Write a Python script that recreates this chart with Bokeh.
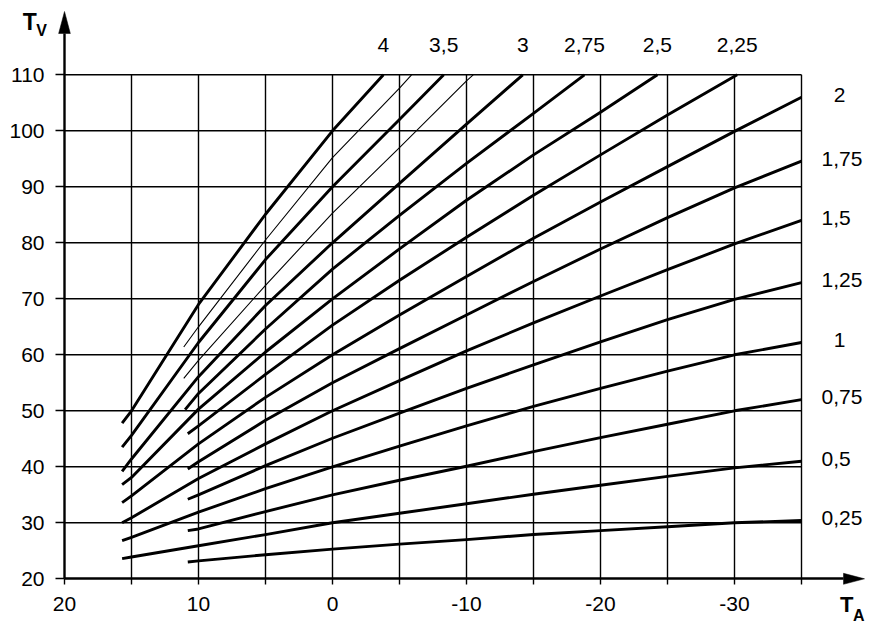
from bokeh.plotting import figure
from bokeh.models import Range1d, FixedTicker
from bokeh.embed import file_html
from bokeh.resources import INLINE
from bokeh.core.properties import value

# ---------------- data ----------------
ta_major_ticks = [20, 10, 0, -10, -20, -30]
ta_major_labels = ["20", "10", "0", "-10", "-20", "-30"]
ta_minor_ticks = [15, 5, -5, -15, -25, -35]
tv_ticks = [20, 30, 40, 50, 60, 70, 80, 90, 100, 110]
tv_labels = ["20", "30", "40", "50", "60", "70", "80", "90", "100", "110"]

c025_ta = [10.8, 10, 5, 0, -5, -10, -15, -20, -25, -30, -35]
c025_tv = [23.0, 23.2, 24.3, 25.3, 26.2, 27.0, 27.9, 28.6, 29.3, 30.0, 30.4]
c05_ta = [15.7, 15, 10, 5, 0, -5, -10, -15, -20, -25, -30, -35]
c05_tv = [23.6, 23.9, 25.9, 27.9, 30.0, 31.7, 33.4, 35.1, 36.7, 38.3, 39.8, 41.0]
c075_ta = [10.8, 10, 5, 0, -5, -10, -15, -20, -25, -30, -35]
c075_tv = [28.6, 28.9, 32.0, 35.0, 37.6, 40.1, 42.7, 45.2, 47.6, 50.0, 52.0]
c1_ta = [15.7, 15, 10, 5, 0, -5, -10, -15, -20, -25, -30, -35]
c1_tv = [26.8, 27.4, 31.9, 36.1, 40.0, 43.7, 47.3, 50.8, 54.0, 57.1, 60.0, 62.2]
c125_ta = [10.8, 10, 5, 0, -5, -10, -15, -20, -25, -30, -35]
c125_tv = [34.2, 35.0, 40.2, 45.1, 49.6, 54.0, 58.2, 62.3, 66.3, 69.9, 72.9]
c15_ta = [15.7, 15, 10, 5, 0, -5, -10, -15, -20, -25, -30, -35]
c15_tv = [30.0, 30.9, 37.9, 44.1, 50.0, 55.4, 60.7, 65.7, 70.5, 75.2, 79.8, 84.0]
c175_ta = [10.8, 10, 5, 0, -5, -10, -15, -20, -25, -30, -35]
c175_tv = [39.6, 40.9, 48.3, 55.0, 61.1, 67.1, 73.1, 78.9, 84.5, 89.8, 94.6]
c2_ta = [15.7, 15, 10, 5, 0, -5, -10, -15, -20, -25, -30, -35]
c2_tv = [33.6, 34.8, 44.1, 52.4, 60.0, 67.1, 74.0, 80.8, 87.3, 93.6, 99.9, 106.0]
c225_ta = [10.8, 10, 5, 0, -5, -10, -15, -20, -25, -30.2]
c225_tv = [45.9, 47.3, 56.5, 65.3, 73.3, 81.0, 88.5, 95.7, 102.8, 110.0]
c25_ta = [15.7, 15, 10, 5, 0, -5, -10, -15, -20, -24.25]
c25_tv = [36.8, 38.1, 50.3, 60.5, 70.0, 78.9, 87.6, 95.7, 103.3, 110.0]
c275_ta = [11.0, 10, 5, 0, -5, -10, -15, -18.8]
c275_tv = [50.2, 53.1, 64.6, 75.3, 84.9, 94.2, 103.1, 110.0]
c3_ta = [15.7, 15, 10, 5, 0, -5, -10, -14.2]
c3_tv = [39.2, 41.4, 56.1, 68.8, 80.0, 90.6, 101.2, 110.0]
c325_ta = [11.1, 10, 5, 0, -5, -10, -10.5]
c325_tv = [55.8, 59.0, 72.4, 85.3, 97.0, 108.9, 110.0]
c35_ta = [15.7, 15, 10, 5, 0, -5, -8.3]
c35_tv = [43.5, 45.6, 62.2, 77.0, 90.0, 102.0, 110.0]
c375_ta = [11.1, 10, 5, 0, -5, -5.9]
c375_tv = [61.4, 65.0, 80.5, 95.2, 107.6, 110.0]
c4_ta = [15.7, 15, 10, 5, 0, -3.8]
c4_tv = [47.8, 50.0, 69.0, 85.1, 100.0, 110.0]

curve_labels = ["0,25", "0,5", "0,75", "1", "1,25", "1,5", "1,75", "2",
                "2,25", "2,5", "2,75", "3", "", "3,5", "", "4"]
curve_ta = [c025_ta, c05_ta, c075_ta, c1_ta, c125_ta, c15_ta, c175_ta, c2_ta,
            c225_ta, c25_ta, c275_ta, c3_ta, c325_ta, c35_ta, c375_ta, c4_ta]
curve_tv = [c025_tv, c05_tv, c075_tv, c1_tv, c125_tv, c15_tv, c175_tv, c2_tv,
            c225_tv, c25_tv, c275_tv, c3_tv, c325_tv, c35_tv, c375_tv, c4_tv]

# ---------------- layout ----------------
W, H = 876, 635
X0, SX = 64.0, 13.4     # canvas px of TA=20, px per unit
Y0, SY = 578.3, 5.6     # canvas px of TV=20, px per unit
x_start = 20 + X0 / SX
x_end = 20 - (W - X0) / SX
y_end = 20 + Y0 / SY
y_start = 20 - (H - Y0) / SY


def xd(px):
    return 20 - (px - X0) / SX


def yd(py):
    return 20 + (Y0 - py) / SY


def tyd(py, fs):
    # baseline position for text glyphs (empirical renderer offset)
    return yd(py - 0.42 * fs)


FONT = "Liberation Sans"
FSN = 21
FS = f"{FSN}px"

p = figure(width=W, height=H, x_range=Range1d(x_start, x_end),
           y_range=Range1d(y_start, y_end), output_backend="svg",
           toolbar_location=None, min_border=0)
p.min_border_left = 0
p.min_border_right = 0
p.min_border_top = 0
p.min_border_bottom = 0
p.outline_line_color = None
p.background_fill_color = "white"
p.border_fill_color = "white"
p.xgrid.visible = False
p.ygrid.visible = False

x_axis_end = xd(843)
y_axis_end = yd(33)

xa = p.xaxis[0]
xa.fixed_location = tv_ticks[0]
xa.bounds = (x_axis_end, ta_major_ticks[0])
xa.ticker = FixedTicker(ticks=ta_major_ticks, minor_ticks=ta_minor_ticks)
xa.major_label_overrides = dict(zip(ta_major_ticks, ta_major_labels))
ya = p.yaxis[0]
ya.fixed_location = ta_major_ticks[0]
ya.bounds = (tv_ticks[0], y_axis_end)
ya.ticker = FixedTicker(ticks=tv_ticks, minor_ticks=[])
ya.major_label_overrides = dict(zip(tv_ticks, tv_labels))
for ax, tout, stand in ((xa, 6, 12), (ya, 9, 11)):
    ax.axis_line_width = 2.4
    ax.axis_line_color = "black"
    ax.major_tick_out = tout
    ax.major_tick_in = 0
    ax.minor_tick_out = tout
    ax.minor_tick_in = 0
    ax.major_tick_line_width = 1.4
    ax.minor_tick_line_width = 1.4
    ax.major_tick_line_color = "black"
    ax.minor_tick_line_color = "black"
    ax.major_label_text_font = FONT
    ax.major_label_text_font_size = FS
    ax.major_label_text_color = "black"
    ax.major_label_standoff = stand

# grid lines (bounded box 20..-35, 20..110)
all_ta = sorted(ta_major_ticks + ta_minor_ticks, reverse=True)
x_lo, x_hi = all_ta[0], all_ta[-1]
y_lo, y_hi = tv_ticks[0], tv_ticks[-1]
vx = all_ta[1:]
p.segment(x0=vx, y0=[y_lo] * len(vx), x1=vx, y1=[y_hi] * len(vx),
          line_color="black", line_width=1.4)
hy = tv_ticks[1:]
p.segment(x0=[x_lo] * len(hy), y0=hy, x1=[x_hi] * len(hy), y1=hy,
          line_color="black", line_width=1.4)

# arrow heads
tip_y = yd(11)
tip_x = xd(864)
hw = 5.85 / SX
p.patch([x_lo + hw, x_lo, x_lo - hw], [y_axis_end, tip_y, y_axis_end],
        color="black", line_width=0.5)
hh = 5.5 / SY
p.patch([x_axis_end, tip_x, x_axis_end], [y_lo + hh, y_lo, y_lo - hh],
        color="black", line_width=0.5)

# curves
for lab, ta, tv in zip(curve_labels, curve_ta, curve_tv):
    p.line(ta, tv, line_color="black", line_width=2.9 if lab else 1.1,
           line_join="round", line_cap="butt")

# curve labels
top_x, top_t = [], []
rl_x, rl_y, rl_t = [], [], []
rc_x, rc_y, rc_t = [], [], []
dy_lab = 6.7 / SY
shift = 0.42 * FSN / SY
for lab, ta, tv in zip(curve_labels, curve_ta, curve_tv):
    if not lab:
        continue
    if ta[-1] == x_hi:
        if "," in lab:
            rl_x.append(xd(821)); rl_y.append(tv[-1] - dy_lab + shift); rl_t.append(lab)
        else:
            rc_x.append(xd(839)); rc_y.append(tv[-1] - dy_lab + shift); rc_t.append(lab)
    else:
        top_x.append(ta[-1]); top_t.append(lab)

common = dict(text_font=value(FONT), text_font_size=FS, text_color="black",
              text_baseline="alphabetic")
p.text(x=top_x, y=[tyd(53.3, FSN)] * len(top_x), text=top_t, text_align="center", **common)
p.text(x=rl_x, y=rl_y, text=rl_t, text_align="left", **common)
p.text(x=rc_x, y=rc_y, text=rc_t, text_align="center", **common)

# axis titles
bold = dict(text_font=value(FONT), text_color="black", text_font_style="bold",
            text_baseline="alphabetic", text_align="left")
p.text(x=[xd(22.3)], y=[tyd(31, 23)], text=["T"], text_font_size="23px", **bold)
p.text(x=[xd(35.8)], y=[tyd(36.7, 16)], text=["V"], text_font_size="16px", **bold)
p.text(x=[xd(839.5)], y=[tyd(613.7, 22)], text=["T"], text_font_size="22px", **bold)
p.text(x=[xd(852.5)], y=[tyd(622, 16)], text=["A"], text_font_size="16px", **bold)

open("out.html", "w").write(file_html(p, INLINE))
